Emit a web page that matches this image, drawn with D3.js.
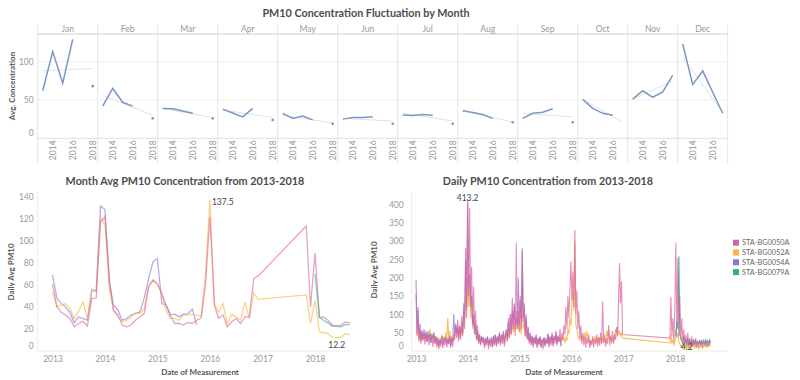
<!DOCTYPE html>
<html><head><meta charset="utf-8">
<script src="https://cdn.jsdelivr.net/npm/d3@7"></script>
<style>
body{margin:0;background:#fff;}
svg{display:block;font-family:Lato,"Open Sans",sans-serif;}
</style></head><body>
<svg id="c" width="800" height="380"></svg>
<script>
// ---------- DATA ----------
const months = ["Jan","Feb","Mar","Apr","May","Jun","Jul","Aug","Sep","Oct","Nov","Dec"];
const years = [2013,2014,2015,2016,2017,2018];
// Top panel: avg concentration per month, one array per year
const top2013 = [62,42,39,38,32.6,25,30.4,36,26,51,51,123];
const top2014 = [113,65,38.5,33,26,27,29.8,33.5,32.6,39,62,70];
const top2015 = [72,47,35.5,28,29,27,31,31,34,32.6,53.5,88];
const top2016 = [129,42,32.6,39,24,28,30,26,38.6,30,60.5,60];
const top2017 = [null,null,null,null,null,null,null,null,null,null,82,32.6];
const top2018 = [68,26,26,24,19,19,19,21,21,null,null,null];
const trendStart = [88,56,39,37,30,26,32.6,36,32.6,51,51,106];
const trendEnd = [91,30,27,27,20,22.5,22.6,21,28,21,75,34];

const stations = ["STA-BG0050A","STA-BG0052A","STA-BG0054A","STA-BG0079A"];
const colors = ["#d9629f","#f6b53b","#8a73dc","#2bb38d"];

// Month average series (monthly, starting 2013-01)
const m50 = [60.6,40,35.5,32.7,29.6,22,25,27,22.7,47.9,48,117,
122,65,37,32.7,23.6,22,23.6,28,31,34,58,64.5,
61,52,42,32,25,25,23.6,26,25,28,30,60,
122,42,29.6,32.7,22,26.5,29.5,25,31,31,66,68,
null,null,null,null,null,null,null,null,null,null,113.6,40,
89,30.6,31,28,23.6,22.7,23.6,26.5,25.6];
const m52 = [54,40,41.8,43,39,29.5,36,44.5,29.6,54,54.5,122,
114.5,55,37,31,26.5,28,31,34.5,34,38.5,60,64.5,
60.6,52,37,29.6,29.6,28,32.7,32.7,33.5,32.7,32,70,
137.5,43,35.5,43,25,33.5,31,28,44.5,29.5,53,47,
null,null,null,null,null,null,null,null,null,null,51,25,
46,17.5,16.6,16,12.6,12.2,12.9,15.5,15];
const m54 = [69,48,43.5,40,35.5,25.6,31,29.6,28,56,54.5,131.8,
128.6,62,41.8,37.3,28,29.5,32.7,34,35.5,48,66,81,
84,43,42,32.7,33.5,31,33.5,34,38,23.6];
const m79 = [70,30.6,28,25.6,22.7,22.7,22,24,24]; // from 2018-01

// Daily series (sampled weekly, starting 2013-01-01)
const d50_2013 = [155,40,85,25,60,20,55,30,45,18,50,25,40,15,45,22,38,12,42,20,35,10,30,5,28,12,35,8,30,15,38,10,32,18,40,8,30,12,45,30,70,35,85,25,65,30,95,40,110,60,280,90,413.2];
const d50_2014 = [150,390,120,230,80,175,60,110,35,70,20,45,15,40,22,35,8,30,15,38,5,28,12,32,10,35,15,42,12,38,18,45,15,35,20,48,12,40,55,25,90,35,100,45,145,60,120,40,295,70,110,55];
const d50_2015 = [150,60,272,80,120,40,90,30,60,20,45,15,40,10,35,18,42,8,30,15,38,10,28,5,35,12,30,20,45,10,38,15,50,12,35,20,55,15,42,25,60,20,50,30,70,45,120,60,150,90,170,245];
const d50_2016 = [140,217,120,330,100,165,60,110,35,70,20,50,15,40,10,35,20,45,8,30,15,40,10,32,18,45,12,38,15,50,20,135,25,45,12,35,20,71,15,40,25,55,20,45,30,65,40,135,240,130,190,45];
const d50_2018 = [35,148,40,90,25,120,294,60,253,40,150,30,89,20,60,15,45,12,50,10,35,15,40,12,30,15,35,10,28,12,30,15,32,10,28,15,30,12,25,15,28,18]; // from 2017-11-26
const d52_2013 = [60,45,112,30,55,25,50,35,48,30,55,28,45,35,60,30,48,25,50,30,40,22,38,18,35,25,45,30,40,28,50,35,90,30,55,20,40,25,35,45,60,40,70,35,65,40,75,45,100,80,150,110,200];
const d52_2014 = [120,180,90,140,60,95,45,70,30,50,25,40,20,38,28,35,15,32,22,38,18,30,25,35,15,40,28,45,20,38,30,50,25,42,35,48,22,40,50,30,55,35,60,45,80,50,75,55,110,60,90,50];
const d52_2015 = [70,45,185,60,75,40,60,35,45,28,40,22,38,25,35,20,40,18,35,25,38,15,32,22,35,18,30,25,45,20,38,28,42,22,40,30,45,20,38,28,40,25,35,30,38,22,35,28,60,45,90,70];
const d52_2016 = [130,160,110,300,70,60,40,35,30,45,28,40,35,50,30,55,40,30,15,28,20,35,25,40,30,35,22,38,28,35,20,40,22,30,18,55,40,60,30,42,20,35,28,40,60,50,65,45,55,40,50,35];
const d52_2018 = [22,45,20,30,15,25,60,35,50,25,20,12,15,8,20,10,15,4.2,18,10,20,8,15,12,18,8,14,10,16,6,12,10,15,8,14,12,18,10,16,12,17,13];
const d54_2013 = [194,60,120,35,75,30,55,28,60,35,50,25,55,30,48,22,45,35,50,20,40,18,35,12,30,20,40,15,35,25,38,18,35,20,42,15,35,25,100,40,75,50,65,35,70,45,60,50,130,95,250,120,405];
const d54_2014 = [170,210,130,150,70,100,45,75,30,55,25,45,18,40,30,38,12,35,20,40,15,30,25,38,12,42,20,45,15,40,25,50,22,45,30,55,20,45,60,30,80,45,100,55,110,70,130,75,90,60,200,70];
const d54_2015 = [140,70,280,90,130,50,100,35,65,25,50,20,42,15,38,22,45,12,35,20,40,10,32,25,38,15,35,20,48,15,40,22,45,18,42,28,50,20,40,25,35,15,20];
const d79_2018 = [40,80,60,258,45,35,28,20,40,22,30,18,35,20,28,15,30,18,32,15,28,20,25,18,30,15,25,20,28,18,30,22,28,20,30,24]; // from 2018-01-07

// ---------- HELPERS ----------
const svg = d3.select("#c");
const GRAY = "#999", DARK = "#555", TITLE = "#4d4d4d";
function weekly(start, arr){ return arr.map((v,k)=>({date:d3.timeDay.offset(start,7*k), v})); }
function monthly(start, arr){ return arr.map((v,k)=>({date:d3.timeMonth.offset(start,k), v})).filter(d=>d.v!=null); }

// ---------- TOP PANEL ----------
svg.append("text").attr("x",366).attr("y",17).attr("text-anchor","middle")
  .attr("font-size",10.8).attr("font-weight",700).attr("fill",TITLE)
  .text("PM10 Concentration Fluctuation by Month");

const yT = d3.scaleLinear().domain([0,136]).range([138.3,34]);
const colW = months.map((m,i)=> i<9 ? 60 : 50);
const colLeft = []; colW.reduce((acc,w)=>{colLeft.push(acc); return acc+w;}, 37.7);
const topRight = colLeft[11]+colW[11];

const gT = svg.append("g");
gT.selectAll("line.grid").data([50,100]).join("line")
  .attr("x1",37.7).attr("x2",topRight).attr("y1",d=>yT(d)).attr("y2",d=>yT(d))
  .attr("stroke","#f1f1f1");
gT.selectAll("line.div").data(colLeft.concat([topRight])).join("line")
  .attr("x1",d=>d).attr("x2",d=>d).attr("y1",25).attr("y2",164)
  .attr("stroke","#e6e6e6");
gT.append("line").attr("x1",37.7).attr("x2",topRight).attr("y1",34).attr("y2",34).attr("stroke","#dedede").attr("stroke-width",1.5);
gT.append("line").attr("x1",37.7).attr("x2",topRight).attr("y1",138.3).attr("y2",138.3).attr("stroke","#dedede");

const yAxT = svg.append("g").attr("transform","translate(37.7,0)")
  .call(d3.axisLeft(yT).tickValues([0,50,100]).tickSize(0).tickPadding(4));
yAxT.select(".domain").remove();
yAxT.selectAll("text").attr("fill",GRAY).attr("font-size",8.5).attr("font-family","Lato");
yAxT.selectAll(".tick").filter(d=>d===0).select("text").attr("dy","-0.3em");
svg.append("text").attr("transform","translate(15,86) rotate(-90)").attr("text-anchor","middle")
  .attr("font-size",8).attr("font-weight",700).attr("fill",DARK).text("Avg. Concentration");

const topByYear = [top2013,top2014,top2015,top2016,top2017,top2018];
months.forEach((m,i)=>{
  const last = i<9 ? 2018 : 2017;
  const xs = d3.scaleLinear().domain([2013,last]).range([colLeft[i]+5, colLeft[i]+colW[i]-5]);
  svg.append("text").attr("x",colLeft[i]+colW[i]/2).attr("y",32).attr("text-anchor","middle")
    .attr("font-size",8.5).attr("fill",GRAY).text(m);
  svg.append("line").attr("x1",xs(2013)).attr("x2",xs(last))
    .attr("y1",yT(trendStart[i])).attr("y2",yT(trendEnd[i]))
    .attr("stroke","#e2e2e2").attr("stroke-width",1);
  const pts = years.map((y,k)=>({y, v: topByYear[k][i]})).filter(d=>d.y<=last);
  const line = d3.line().defined(d=>d.v!=null).x(d=>xs(d.y)).y(d=>yT(d.v));
  svg.append("path").datum(pts).attr("d",line).attr("fill","none")
    .attr("stroke","#7698c8").attr("stroke-width",1.5);
  pts.forEach((d,k)=>{
    const prev = pts[k-1], next = pts[k+1];
    if(d.v!=null && (!prev||prev.v==null) && (!next||next.v==null)){
      svg.append("circle").attr("cx",xs(d.y)).attr("cy",yT(d.v)).attr("r",1.3).attr("fill","#7698c8");
    }
  });
  const ax = svg.append("g").attr("transform","translate(0,138.3)")
    .call(d3.axisBottom(xs).tickValues(i<9?[2014,2016,2018]:[2014,2016]).tickFormat(d3.format("d")).tickSize(0));
  ax.select(".domain").remove();
  ax.selectAll("text").attr("transform","rotate(-90)").attr("x",-12).attr("y",0).attr("dy","0.35em")
    .attr("text-anchor","middle").attr("fill",GRAY).attr("font-size",8.5).attr("font-family","Lato");
});

// ---------- BOTTOM LEFT: monthly ----------
const t0 = new Date(2013,0,1), t1 = new Date(2018,0,1);
const xM = d3.scaleTime().domain([t0,t1]).range([52.5,315]);
const yM = d3.scaleLinear().domain([0,140]).range([351,197]);
svg.append("text").attr("x",185).attr("y",185).attr("text-anchor","middle")
  .attr("font-size",10.8).attr("font-weight",700).attr("fill",TITLE)
  .text("Month Avg PM10 Concentration from 2013-2018");
svg.append("line").attr("x1",37.7).attr("x2",37.7).attr("y1",192).attr("y2",351).attr("stroke","#ececec");
svg.append("line").attr("x1",37.7).attr("x2",350).attr("y1",351).attr("y2",351).attr("stroke","#ececec");
const yAxM = svg.append("g").attr("transform","translate(37.7,0)")
  .call(d3.axisLeft(yM).tickValues(d3.range(0,141,20)).tickSize(0).tickPadding(4));
yAxM.select(".domain").remove();
yAxM.selectAll("text").attr("fill",GRAY).attr("font-size",8.5).attr("font-family","Lato");
yAxM.selectAll(".tick").filter(d=>d===0).select("text").attr("dy","-0.3em");
const yrTicks = years.map(y=>new Date(y,0,1));
const xAxM = svg.append("g").attr("transform","translate(0,351)")
  .call(d3.axisBottom(xM).tickValues(yrTicks).tickFormat(d3.timeFormat("%Y")).tickSize(0).tickPadding(5));
xAxM.select(".domain").remove();
xAxM.selectAll("text").attr("fill",GRAY).attr("font-size",8.5).attr("font-family","Lato");
svg.append("text").attr("transform","translate(14,272) rotate(-90)").attr("text-anchor","middle")
  .attr("font-size",8).attr("font-weight",700).attr("fill",DARK).text("Daily Avg PM10");
svg.append("text").attr("x",200).attr("y",375).attr("text-anchor","middle")
  .attr("font-size",8).attr("font-weight",700).attr("fill",DARK).text("Date of Measurement");

const mSeries = [
  {c:colors[2], d:monthly(t0,m54)},
  {c:colors[1], d:monthly(t0,m52)},
  {c:colors[0], d:monthly(t0,m50)},
  {c:colors[3], d:monthly(new Date(2018,0,1),m79)}
];
const lineM = d3.line().x(d=>xM(d.date)).y(d=>yM(d.v));
mSeries.forEach(s=>{
  svg.append("path").datum(s.d).attr("d",lineM).attr("fill","none")
    .attr("stroke",s.c).attr("stroke-opacity",0.6).attr("stroke-width",1.3);
});
const allM = mSeries.flatMap(s=>s.d);
const mMax = allM.reduce((a,b)=>b.v>a.v?b:a), mMin = allM.reduce((a,b)=>b.v<a.v?b:a);
svg.append("text").attr("x",xM(mMax.date)+2).attr("y",yM(mMax.v)+5).attr("font-size",8.5).attr("fill","#444").text(mMax.v);
svg.append("text").attr("x",xM(mMin.date)).attr("y",yM(mMin.v)+10).attr("text-anchor","middle").attr("font-size",8.5).attr("fill","#444").text(mMin.v);

// ---------- BOTTOM RIGHT: daily ----------
const xD = d3.scaleTime().domain([t0,t1]).range([416,675]);
const yD = d3.scaleLinear().domain([0,400]).range([351,204.3]);
svg.append("text").attr("x",548).attr("y",185).attr("text-anchor","middle")
  .attr("font-size",10.8).attr("font-weight",700).attr("fill",TITLE)
  .text("Daily PM10 Concentration from 2013-2018");
svg.append("line").attr("x1",411.7).attr("x2",411.7).attr("y1",192).attr("y2",351).attr("stroke","#ececec");
svg.append("line").attr("x1",411.7).attr("x2",728).attr("y1",351).attr("y2",351).attr("stroke","#ececec");
const yAxD = svg.append("g").attr("transform","translate(411.7,0)")
  .call(d3.axisLeft(yD).tickValues(d3.range(0,401,50)).tickSize(0).tickPadding(8));
yAxD.select(".domain").remove();
yAxD.selectAll("text").attr("fill",GRAY).attr("font-size",8.5).attr("font-family","Lato");
yAxD.selectAll(".tick").filter(d=>d===0).select("text").attr("dy","-0.3em");
const xAxD = svg.append("g").attr("transform","translate(0,351)")
  .call(d3.axisBottom(xD).tickValues(yrTicks).tickFormat(d3.timeFormat("%Y")).tickSize(0).tickPadding(5));
xAxD.select(".domain").remove();
xAxD.selectAll("text").attr("fill",GRAY).attr("font-size",8.5).attr("font-family","Lato");
svg.append("text").attr("transform","translate(377,270) rotate(-90)").attr("text-anchor","middle")
  .attr("font-size",8).attr("font-weight",700).attr("fill",DARK).text("Daily Avg PM10");
svg.append("text").attr("x",564).attr("y",375).attr("text-anchor","middle")
  .attr("font-size",8).attr("font-weight",700).attr("fill",DARK).text("Date of Measurement");

const seg2018 = new Date(2017,10,26);
const dSeries = [
  {c:colors[1], o:0.85, d: weekly(t0, d52_2013.concat(d52_2014,d52_2015,d52_2016)).concat(weekly(seg2018,d52_2018))},
  {c:colors[2], o:0.75, d: weekly(t0, d54_2013.concat(d54_2014,d54_2015))},
  {c:colors[3], o:0.9, d: weekly(new Date(2018,0,7), d79_2018)},
  {c:colors[0], o:0.72, d: weekly(t0, d50_2013.concat(d50_2014,d50_2015,d50_2016)).concat(weekly(seg2018,d50_2018))}
];
const lineD = d3.line().x(d=>xD(d.date)).y(d=>yD(d.v));
dSeries.forEach(s=>{
  svg.append("path").datum(s.d).attr("d",lineD).attr("fill","none")
    .attr("stroke",s.c).attr("stroke-opacity",s.o).attr("stroke-width",1.1);
});
const allD = dSeries.flatMap(s=>s.d);
const dMax = allD.reduce((a,b)=>b.v>a.v?b:a), dMin = allD.reduce((a,b)=>b.v<a.v?b:a);
svg.append("text").attr("x",xD(dMax.date)).attr("y",yD(dMax.v)+2).attr("text-anchor","middle").attr("font-size",8.5).attr("fill","#444").text(dMax.v);
svg.append("text").attr("x",xD(dMin.date)).attr("y",yD(dMin.v)+1).attr("text-anchor","middle").attr("font-size",8.5).attr("fill","#444").text(dMin.v);

const lg = svg.append("g");
stations.forEach((s,i)=>{
  const y = 242.7 + i*9.8;
  lg.append("rect").attr("x",733).attr("y",y-3).attr("width",6).attr("height",6).attr("fill",colors[i]);
  lg.append("text").attr("x",742).attr("y",y).attr("dy","0.35em").attr("font-size",7.3).attr("fill","#666").text(s);
});
</script>
</body></html>
